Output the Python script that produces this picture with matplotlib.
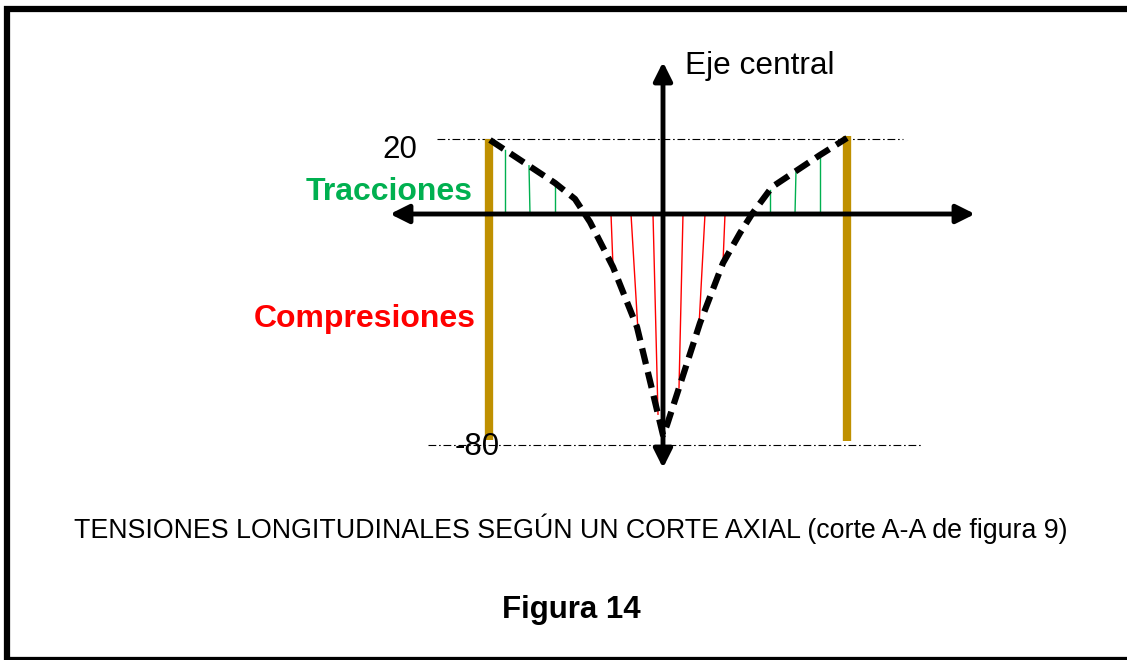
import numpy as np
import matplotlib.pyplot as plt
from matplotlib.patches import Rectangle

plt.rcParams['font.family'] = ['Liberation Sans', 'DejaVu Sans']

# drawing units: x from the central axis, y from the horizontal axis (not to scale)
profile_x = [-173, -108, -88, -73, -50, -26, 0, 4, 37, 60, 77, 89, 109, 157, 184]
profile_y = [74, 31, 15, -8, -53, -113, -221, -211, -109, -49, -19, 0, 27, 59, 76]

# hatch lines: position on the axis and position where they meet the profile
traction_base = [-158, -133, -108, 107, 132, 157]
traction_tip = [-158, -134, -108, 107, 133, 157]
compression_base = [-52, -32, -10, 20, 42, 62]
compression_tip = [-50, -25, -5, 16, 36, 60]

bar_x = [-174, 184]
bar_top = [75, 78]
bar_bottom = [-226, -227]

ref_levels = [75, -231]
ref_labels = ['20', '-80']

fig = plt.figure(figsize=(11.27, 6.6), dpi=100)
ax = fig.add_axes([0, 0, 1, 1])
ax.set_xlim(-663, 464)
ax.set_ylim(-446, 214)
ax.axis('off')

# frame
ax.add_patch(Rectangle((-656, -446), 1200, 651.5, fill=False, lw=4.5,
                       edgecolor='black', clip_on=False))

# reference dash-dot lines
ax.plot([-226, 240], [ref_levels[0]] * 2, color='black', lw=0.8,
        linestyle=(0, (7, 2.5, 1.5, 2.5)))
ax.plot([-235, 260], [ref_levels[1]] * 2, color='black', lw=0.8,
        linestyle=(0, (7, 2.5, 1.5, 2.5)))

# hatch lines
trac_y = np.interp(traction_tip, profile_x[:6] + profile_x[11:], profile_y[:6] + profile_y[11:])
for xb, xt, yt in zip(traction_base, traction_tip, trac_y):
    ax.plot([xb, xt], [0, yt], color='#00b050', lw=1.0)
comp_y = np.interp(compression_tip, profile_x, profile_y)
for xb, xt, yt in zip(compression_base, compression_tip, comp_y):
    ax.plot([xb, xt], [0, yt], color='#ff0000', lw=1.0)

# axes arrows
arrow = dict(arrowstyle='<|-|>', lw=3.5, color='black', mutation_scale=28,
             shrinkA=0, shrinkB=0)
ax.annotate('', xy=(-273, 0), xytext=(312, 0), arrowprops=arrow)
ax.annotate('', xy=(0, -254), xytext=(0, 152), arrowprops=arrow)

# golden bars
for x, t, b in zip(bar_x, bar_top, bar_bottom):
    ax.plot([x, x], [b, t], color='#bf9000', lw=6, solid_capstyle='butt')

# stress profile
ax.plot(profile_x, profile_y, color='black', lw=4.5, dashes=(2.6, 1.3))

# texts
ax.text(22, 148, 'Eje central', fontsize=22.8, ha='left', va='center')
ax.text(-263, ref_levels[0] - 11, ref_labels[0], fontsize=22.5, ha='center', va='center')
ax.text(-186, ref_levels[1] - 2, ref_labels[1], fontsize=22.5, ha='center', va='center')
ax.text(-190, 22, 'Tracciones', fontsize=23, fontweight='bold',
        color='#00b050', ha='right', va='center')
ax.text(-187, -105, 'Compresiones', fontsize=23, fontweight='bold',
        color='#ff0000', ha='right', va='center')
ax.text(-92, -315, 'TENSIONES LONGITUDINALES SEGÚN UN CORTE AXIAL (corte A-A de figura 9)',
        fontsize=19.3, ha='center', va='center')
ax.text(-92, -396, 'Figura 14', fontsize=22.5, fontweight='bold', ha='center', va='center')

fig.savefig('out.png', dpi=100)
